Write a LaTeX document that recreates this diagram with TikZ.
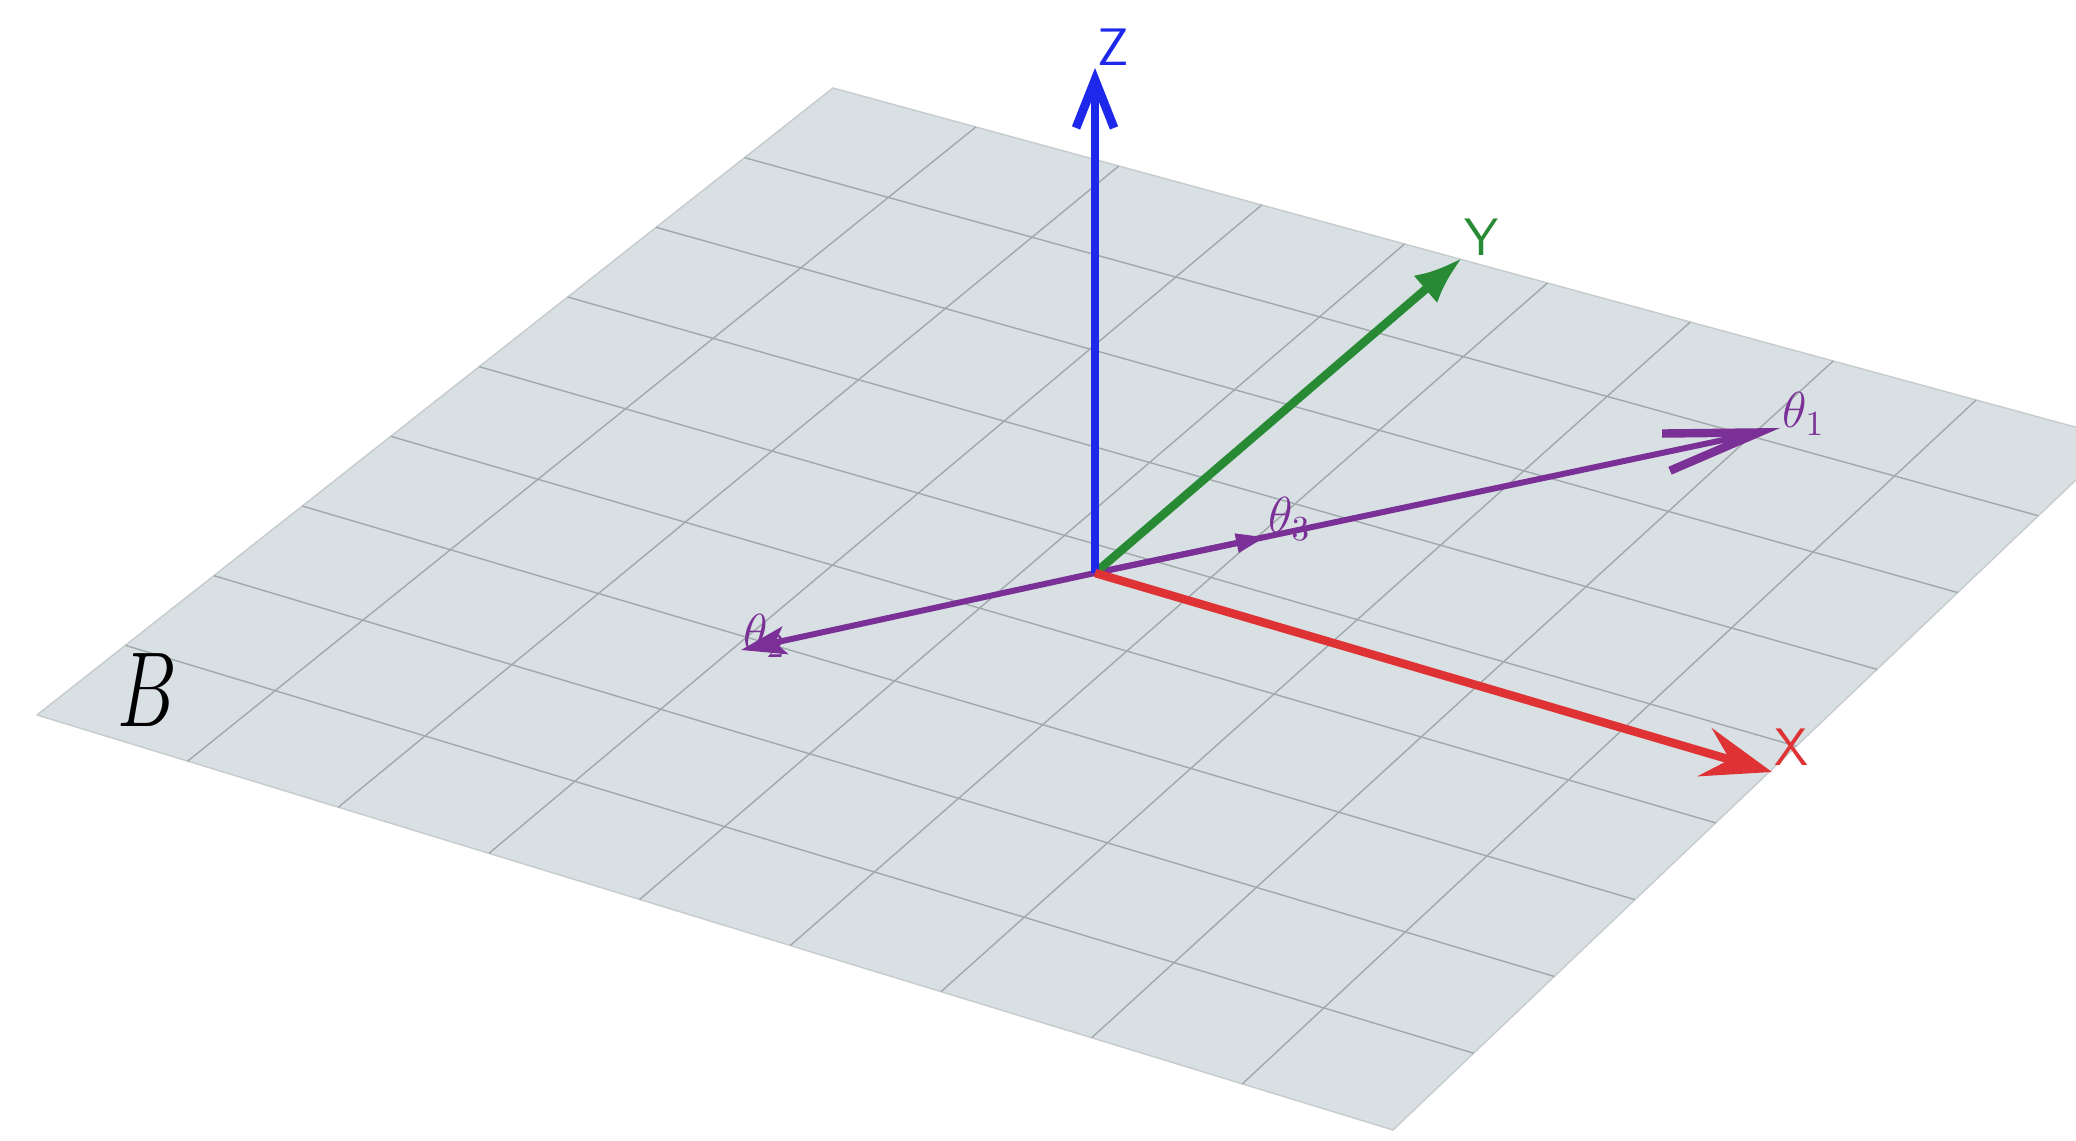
\documentclass[tikz,border=0pt]{standalone}
\usepackage{amsmath,amssymb}
\usepackage{tikz}
\usetikzlibrary{arrows.meta,calc}

\definecolor{planefill}{RGB}{216,224,227}
\definecolor{gridgray}{RGB}{160,168,172}
\definecolor{zblue}{RGB}{30,40,235}
\definecolor{ygreen}{RGB}{40,138,52}
\definecolor{xred}{RGB}{222,50,52}
\definecolor{thetapurple}{RGB}{122,48,150}

\begin{document}
\begin{tikzpicture}[
  plane/.style={fill=planefill, draw=gridgray!60, line width=0.4pt, line join=round},
  gridline/.style={draw=gridgray, line width=0.4pt},
  zaxis/.style={draw=zblue, line width=2.5pt, -{Straight Barb[length=4.8mm, width=3.8mm]}},
  yaxis/.style={draw=ygreen, line width=2.4pt, -{Latex[length=4.8mm, width=3.6mm]}},
  xaxis/.style={draw=xred, line width=2.4pt, -{Stealth[length=7mm, width=5mm, inset=2.6mm]}},
  thetaarrow/.style={draw=thetapurple, line width=1.7pt},
  axislabel/.style={font=\sffamily\fontsize{15}{18}\selectfont, inner sep=0.5pt, anchor=south west},
  thetalabel/.style={text=thetapurple, font=\Large, inner sep=0.5pt, anchor=base west}
]
  \useasboundingbox (0,0) rectangle (20.76,11.40);

  % corners of the plane B
  \coordinate (T) at (8.33,10.52);
  \coordinate (L) at (0.37,4.25);
  \coordinate (Bt) at (13.93,0.10);
  \coordinate (R) at (21.19,7.01);

  % plane and its grid
  \begin{scope}
    \clip (0,0) rectangle (20.76,11.40);
    \path[plane] (T) -- (L) -- (Bt) -- (R) -- cycle;
    \foreach \i in {1,...,8} {
      \draw[gridline] ($(L)!\i/9!(Bt)$) -- ($(T)!\i/9!(R)$);
      \draw[gridline] ($(L)!\i/9!(T)$) -- ($(Bt)!\i/9!(R)$);
    }
  \end{scope}

  % origin and tips
  \coordinate (O) at (10.95,5.67);
  \coordinate (ztip) at (10.95,10.72);
  \coordinate (ytip) at (14.62,8.82);
  \coordinate (xtip) at (17.72,3.68);
  \coordinate (t1tip) at (17.80,7.12);
  \coordinate (t3tip) at (12.66,6.03);
  \coordinate (t2tip) at (7.41,4.90);

  % theta vectors
  \draw[thetaarrow, -{Straight Barb[length=9.5mm, width=3.8mm, line width=2.4pt]}] (O) -- (t1tip);
  \draw[thetaarrow, -{Stealth[length=4.5mm, width=2.8mm, inset=1mm]}] (O) -- (t2tip);
  \draw[thetaarrow, -{Triangle[length=3mm, width=1.8mm]}] (O) -- (t3tip);

  % axes
  \draw[yaxis] (O) -- (ytip);
  \draw[zaxis] (O) -- (ztip);
  \draw[xaxis] (O) -- (xtip);

  % labels
  \node[axislabel, text=zblue] (zlab) at (ztip) {Z};
  \node[axislabel, text=ygreen] (ylab) at (ytip) {Y};
  \node[axislabel, text=xred] (xlab) at ($(xtip)+(0,0.04)$) {X};
  \node[thetalabel] (t1lab) at (t1tip) {$\theta_1$};
  \node[thetalabel] (t3lab) at ($(t3tip)+(0,0.04)$) {$\theta_3$};
  \node[thetalabel] (t2lab) at (t2tip) {$\theta_2$};
  \node (bname) at (1.47,4.50) {\scalebox{0.86}[1.22]{\Huge$B$}};
\end{tikzpicture}
\end{document}
